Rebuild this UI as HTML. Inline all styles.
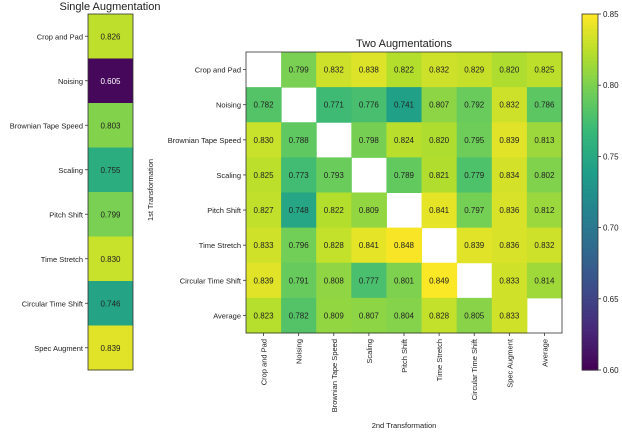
<!DOCTYPE html>
<html><head><meta charset="utf-8"><style>
body{margin:0;background:#fff;width:622px;height:430px;overflow:hidden}
svg{font-family:"Liberation Sans","DejaVu Sans",sans-serif}
</style></head><body>
<svg id="c" width="622" height="430"></svg>
<script>
const singleLabels=["Crop and Pad","Noising","Brownian Tape Speed","Scaling","Pitch Shift","Time Stretch","Circular Time Shift","Spec Augment"];
const singleValues=[0.826,0.605,0.803,0.755,0.799,0.830,0.746,0.839];
const rowLabels=["Crop and Pad","Noising","Brownian Tape Speed","Scaling","Pitch Shift","Time Stretch","Circular Time Shift","Average"];
const colLabels=["Crop and Pad","Noising","Brownian Tape Speed","Scaling","Pitch Shift","Time Stretch","Circular Time Shift","Spec Augment","Average"];
const pairValues=[
[null,0.799,0.832,0.838,0.822,0.832,0.829,0.820,0.825],
[0.782,null,0.771,0.776,0.741,0.807,0.792,0.832,0.786],
[0.830,0.788,null,0.798,0.824,0.820,0.795,0.839,0.813],
[0.825,0.773,0.793,null,0.789,0.821,0.779,0.834,0.802],
[0.827,0.748,0.822,0.809,null,0.841,0.797,0.836,0.812],
[0.833,0.796,0.828,0.841,0.848,null,0.839,0.836,0.832],
[0.839,0.791,0.808,0.777,0.801,0.849,null,0.833,0.814],
[0.823,0.782,0.809,0.807,0.804,0.828,0.805,0.833,null]];
const cbTicks=[0.60,0.65,0.70,0.75,0.80,0.85];
const vmin=0.60,vmax=0.85;
const V=[[68,1,84],[72,40,120],[62,74,137],[49,104,142],[38,130,142],[31,158,137],[53,183,121],[109,205,89],[180,222,44],[253,231,37]];
function cmap(v){let t=Math.max(0,Math.min(1,(v-vmin)/(vmax-vmin)))*(V.length-1);let i=Math.min(Math.floor(t),V.length-2),f=t-i;
const c=V[i].map((a,k)=>Math.round(a+(V[i+1][k]-a)*f));return `rgb(${c})`;}
const svg=document.getElementById('c');const NS="http://www.w3.org/2000/svg";
function el(tag,attrs,txt){const e=document.createElementNS(NS,tag);for(const k in attrs)e.setAttribute(k,attrs[k]);if(txt!==undefined)e.textContent=txt;svg.appendChild(e);return e;}
const sx0=88,sx1=133,sy0=14,sy1=370,sh=(sy1-sy0)/singleValues.length;
const sy=i=>sy0+i*sh;
let t=el('text',{x:110,y:10,'font-size':11,'text-anchor':'middle',fill:'#222'},'Single Augmentation');


singleValues.forEach((v,i)=>{
 const r=el('rect',{x:sx0,y:sy(i),width:sx1-sx0,height:sh+0.5,fill:cmap(v)});
 
 
 const tx=el('text',{x:(sx0+sx1)/2,y:sy(i)+sh/2+3,'font-size':8,'text-anchor':'middle',fill:v<0.7?'#fff':'#222'},v.toFixed(3));
 
 
 el('line',{x1:sx0-3,x2:sx0,y1:sy(i)+sh/2,y2:sy(i)+sh/2,stroke:'#333','stroke-width':0.8});
 const lb=el('text',{x:sx0-5,y:sy(i)+sh/2+3,'font-size':7.5,'text-anchor':'end',fill:'#222'},singleLabels[i]);
 
 
});
el('rect',{x:sx0,y:sy0,width:sx1-sx0,height:sy1-sy0,fill:'none',stroke:'#333','stroke-width':0.8});
const px0=246,px1=562,py0=52,py1=333;const cw=(px1-px0)/colLabels.length,ch=(py1-py0)/rowLabels.length;
const px=j=>px0+j*cw,py=i=>py0+i*ch;
t=el('text',{x:(px0+px1)/2,y:47,'font-size':11,'text-anchor':'middle',fill:'#222'},'Two Augmentations');


pairValues.forEach((row,i)=>row.forEach((v,j)=>{
 if(v===null)return;
 const r=el('rect',{x:px(j),y:py(i),width:cw+0.5,height:ch+0.5,fill:cmap(v)});
 
 
 const tx=el('text',{x:px(j)+cw/2,y:py(i)+ch/2+3,'font-size':8,'text-anchor':'middle',fill:'#222'},v.toFixed(3));
 
 
}));
rowLabels.forEach((l,i)=>{
 el('line',{x1:px0-3,x2:px0,y1:py(i)+ch/2,y2:py(i)+ch/2,stroke:'#333','stroke-width':0.8});
 const lb=el('text',{x:px0-5,y:py(i)+ch/2+3,'font-size':7.5,'text-anchor':'end',fill:'#222'},l);
 
 
});
colLabels.forEach((l,j)=>{
 const x=px(j)+cw/2;
 el('line',{x1:x,x2:x,y1:py1,y2:py1+3,stroke:'#333','stroke-width':0.8});
 const lb=el('text',{x:0,y:0,'font-size':7.5,'text-anchor':'end',fill:'#222',transform:`translate(${x+3},${py1+6}) rotate(-90)`},l);
 
 
});
el('rect',{x:px0,y:py0,width:px1-px0,height:py1-py0,fill:'none',stroke:'#333','stroke-width':0.8});
t=el('text',{x:0,y:0,'font-size':7.5,'text-anchor':'middle',fill:'#222',transform:'translate(153,190) rotate(-90)'},'1st Transformation');


t=el('text',{x:(px0+px1)/2,y:428,'font-size':7.5,'text-anchor':'middle',fill:'#222'},'2nd Transformation');


const cx0=582,cx1=598,cy0=14,cy1=370;
const cy=v=>cy1-(v-vmin)/(vmax-vmin)*(cy1-cy0);
for(let k=0;k<100;k++){const v0=vmin+(vmax-vmin)*k/100,v1=vmin+(vmax-vmin)*(k+1)/100;
 el('rect',{x:cx0,y:cy(v1),width:cx1-cx0,height:cy(v0)-cy(v1)+0.6,fill:cmap((v0+v1)/2)});}
const cb=el('rect',{x:cx0,y:cy0,width:cx1-cx0,height:cy1-cy0,fill:'none',stroke:'#333','stroke-width':0.8});


cbTicks.forEach(v=>{
 el('line',{x1:cx1,x2:cx1+3,y1:cy(v),y2:cy(v),stroke:'#333','stroke-width':0.8});
 const lb=el('text',{x:cx1+5,y:cy(v)+3,'font-size':8,fill:'#222'},v.toFixed(2));
 
 
});
</script>
</body></html>
